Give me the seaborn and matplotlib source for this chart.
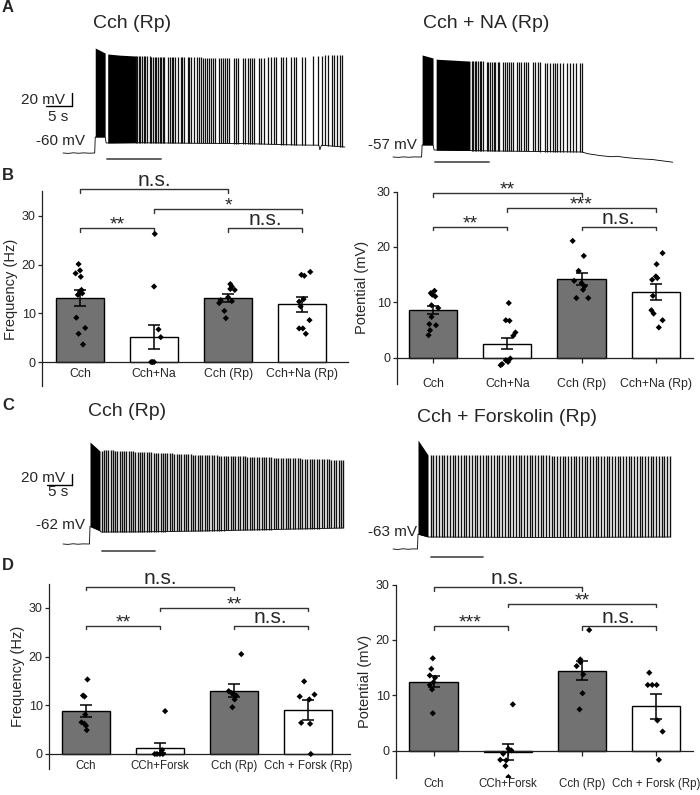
import numpy as np
import pandas as pd
import matplotlib
matplotlib.use('Agg')
import matplotlib.pyplot as plt
import seaborn as sns

# ---- bar chart data (mean, sem, single cells) ----
b_cats = ['Cch', 'Cch+Na', 'Cch (Rp)', 'Cch+Na (Rp)']
d_cats = ['Cch', 'CCh+Forsk', 'Cch (Rp)', 'Cch + Forsk (Rp)']

b_freq_mean = [13.1, 5.1, 13.1, 11.9]
b_freq_sem = [1.6, 2.4, 0.8, 1.55]
b_freq_pts = [[20.1, 18.8, 18.2, 17.5, 14.8, 14.5, 14.1, 13.8, 9.1, 7.0, 5.8, 3.6],
              [26.3, 15.5, 6.7, 5.1, 0.0, 0.0, 0.0],
              [16.0, 15.5, 15.0, 14.8, 13.3, 12.7, 12.5, 12.1, 10.5, 9.0],
              [18.5, 17.9, 17.7, 12.9, 12.4, 11.4, 8.6, 6.9, 6.9, 5.8]]
b_freq_dx = [[-0.02, 0.0, -0.06, 0.01, 0.02, 0.0, 0.03, -0.03, -0.05, 0.07, -0.02, 0.04],
             [0.01, 0.0, 0.06, 0.09, -0.04, 0.0, -0.02],
             [0.03, 0.05, 0.03, 0.09, 0.0, -0.1, 0.05, -0.12, -0.05, -0.03],
             [0.11, -0.01, 0.03, 0.02, -0.04, -0.02, 0.1, -0.04, 0.01, 0.05]]
b_freq_sig = [(0, 2, 35.5, 'n.s.'), (0, 1, 27.5, '**'), (1, 3, 31.4, '*'), (2, 3, 27.5, 'n.s.')]

b_pot_mean = [8.65, 2.6, 14.2, 11.9]
b_pot_sem = [0.8, 1.0, 1.05, 1.4]
b_pot_pts = [[12.1, 11.7, 11.4, 11.1, 9.5, 9.0, 7.4, 6.1, 5.9, 5.0, 4.1],
             [9.9, 6.8, 6.7, 4.6, 4.0, -0.1, -0.4, -0.7, -1.1, -1.3],
             [21.1, 18.4, 15.7, 13.9, 13.5, 12.9, 12.3, 10.8, 10.8],
             [18.9, 16.9, 14.7, 14.4, 14.1, 11.2, 8.6, 8.0, 6.8, 5.5]]
b_pot_dx = [[0.02, -0.03, -0.01, 0.03, -0.02, 0.07, -0.02, -0.05, 0.04, -0.04, -0.06],
            [0.02, -0.02, 0.03, 0.11, 0.08, 0.04, -0.02, 0.01, -0.07, -0.09],
            [-0.12, 0.03, -0.04, -0.1, 0.0, 0.04, 0.02, -0.07, 0.09],
            [0.09, 0.01, 0.0, 0.02, -0.05, -0.04, -0.06, -0.03, 0.09, 0.04]]
b_pot_sig = [(0, 2, 29.7, '**'), (0, 1, 23.6, '**'), (1, 3, 27.0, '***'), (2, 3, 23.6, 'n.s.')]

d_freq_mean = [8.8, 1.2, 13.0, 9.0]
d_freq_sem = [1.3, 1.1, 1.4, 2.0]
d_freq_pts = [[15.3, 12.0, 11.8, 8.1, 6.5, 6.2, 5.8, 4.9],
              [8.8, 0.8, 0.0, 0.0, 0.0, 0.0],
              [20.5, 12.9, 12.5, 12.2, 12.0, 11.2, 9.6],
              [14.9, 12.2, 11.8, 11.2, 6.4, 6.2, 0.0]]
d_freq_dx = [[0.02, -0.04, -0.02, -0.01, -0.06, -0.02, 0.0, 0.01],
             [0.07, 0.03, 0.0, -0.04, 0.04, -0.07],
             [0.1, -0.07, -0.03, 0.0, 0.03, 0.01, -0.02],
             [-0.05, 0.09, -0.11, 0.02, -0.09, 0.03, 0.04]]
d_freq_sig = [(0, 2, 34.3, 'n.s.'), (0, 1, 26.3, '**'), (1, 3, 30.0, '**'), (2, 3, 26.3, 'n.s.')]

d_pot_mean = [12.5, -0.2, 14.5, 8.1]
d_pot_sem = [1.05, 1.4, 1.75, 2.25]
d_pot_pts = [[16.7, 14.8, 13.6, 13.2, 12.4, 11.9, 11.1, 6.8],
             [8.4, 0.4, 0.1, -0.5, -1.6, -1.7, -2.7, -4.7],
             [21.8, 16.5, 16.0, 15.3, 13.8, 10.4, 7.5],
             [14.1, 11.9, 11.9, 11.9, 5.5, 3.5, -1.6]]
d_pot_dx = [[-0.01, -0.03, -0.05, 0.02, 0.0, -0.05, -0.02, -0.01],
            [0.07, 0.01, 0.05, -0.06, -0.1, -0.02, -0.03, 0.01],
            [0.1, -0.02, -0.02, -0.07, 0.02, 0.01, -0.03],
            [-0.09, -0.11, -0.05, 0.01, 0.02, 0.09, 0.04]]
d_pot_sig = [(0, 2, 29.5, 'n.s.'), (0, 1, 22.5, '***'), (1, 3, 26.5, '**'), (2, 3, 22.5, 'n.s.')]

# ---- traces: time (s), membrane potential (mV) ----
a_left_base_t = [0, 1, 2, 3, 4, 5, 6.1, 6.2, 8.1, 8.3, 15, 25, 35, 45, 49.2, 49.4, 49.7, 52, 54.2]
a_left_base_v = [-60, -60.6, -59.7, -60.4, -59.8, -60.3, -60, -35.4, -35.4, -44.6, -44.2, -45, -45.5,
                 -47.7, -48, -55, -48, -49.5, -50.8]
a_left_top_t = [6.2, 8.5, 14, 20, 32.7, 45.6, 52, 54.2]
a_left_top_v = [101.5, 92.3, 89.2, 87.7, 86.2, 87.7, 90.8, 90.8]
a_left_block_t = [[6.2, 8.1], [8.6, 11.0, 14.0]]
a_left_block_top = [[101.5, 93.8], [92.3, 90.5, 89.2]]
a_left_block_bot = [[-35.4, -35.4], [-44.6, -44.4, -44.2]]
a_left_spikes = [14.0, 14.3, 14.6, 14.9, 15.2, 15.5, 15.8, 16.1, 16.7, 17.0, 17.3, 17.6, 17.9, 18.3,
                 18.6, 18.9, 19.2, 19.5, 20.2, 20.5, 20.9, 21.2, 21.5, 22.2, 22.6, 22.9, 23.3, 24.0,
                 24.3, 24.7, 25.1, 25.8, 26.2, 26.5, 26.9, 27.3, 27.7, 28.1, 28.4, 28.8, 29.2, 30.0,
                 30.4, 30.8, 31.2, 31.6, 32.0, 32.9, 33.3, 33.7, 34.6, 35.0, 35.5, 35.9, 36.3, 36.8,
                 37.7, 38.1, 38.6, 39.5, 40.0, 40.5, 40.9, 41.9, 42.4, 42.9, 43.9, 44.4, 44.9,
                 45.9, 46.5, 48.1, 49.0, 49.9, 50.4, 51.0, 51.7, 52.1, 52.6, 53.3, 53.7]
a_left_window = [8.5, 18.8]

a_right_base_t = [0, 1, 2, 3, 4, 5.5, 5.6, 7.7, 7.9, 20, 36.3, 37.5, 40, 42, 43, 45, 47, 50, 53.8]
a_right_base_v = [-57, -57.6, -56.8, -57.4, -56.9, -57, -38.5, -38.5, -46.2, -47.8, -49.3, -52,
                  -55, -56.6, -55.9, -58, -59.5, -61, -65]
a_right_top_t = [5.6, 7.7, 9, 14.8, 20.6, 36.3]
a_right_top_v = [100, 95.3, 93, 90.5, 89.2, 87.6]
a_right_block_t = [[5.6, 7.7], [8.3, 14.8]]
a_right_block_top = [[100, 95.3], [93.5, 90.5]]
a_right_block_bot = [[-38.5, -38.5], [-46.5, -47.0]]
a_right_spikes = [15.1, 15.4, 15.7, 16.0, 16.3, 16.7, 17.0, 17.3, 18.0, 18.3, 18.7, 19.0, 19.4,
                  19.7, 20.1, 20.4, 21.2, 21.5, 21.9, 22.3, 22.7, 23.1, 23.9, 24.3, 24.7, 25.1,
                  25.6, 26.0, 26.9, 27.3, 27.8, 28.3, 29.2, 29.7, 30.2, 30.7, 31.2,
                  31.5, 32.1, 32.7, 33.5, 34.0, 34.6, 35.2, 36.0, 36.3]
a_right_window = [8.1, 18.5]

c_left_base_t = [0, 1, 2, 3, 4, 5.3, 5.4, 7.4, 7.6, 15, 27.4, 40, 56]
c_left_base_v = [-62, -62.7, -61.6, -62.4, -61.8, -62, -30, -38, -40.2, -40, -38.4, -36, -32.9]
c_left_top_t = [5.4, 6.5, 7.4, 8, 27.4, 56]
c_left_top_v = [123.5, 112, 107, 109, 100, 90.7]
c_left_block_t = [[5.4, 7.4]]
c_left_block_top = [[123.5, 107]]
c_left_block_bot = [[-30, -38]]
c_left_spikes = [7.7, 8.1, 8.6, 9.0, 9.5, 9.9, 10.4, 10.8, 11.3, 11.7, 12.2, 12.6, 13.1, 13.5, 14.0,
                 14.4, 14.9, 15.3, 15.8, 16.2, 16.7, 17.2, 17.6, 18.1, 18.5, 19.0, 19.5, 19.9, 20.4,
                 20.8, 21.3, 21.8, 22.2, 22.7, 23.2, 23.6, 24.1, 24.6, 25.0, 25.5, 26.0, 26.4, 26.9,
                 27.4, 27.8, 28.3, 28.8, 29.2, 29.7, 30.2, 30.7, 31.1, 31.6, 32.1, 32.5, 33.0, 33.5,
                 34.0, 34.4, 34.9, 35.4, 35.9, 36.3, 36.8, 37.3, 37.8, 38.2, 38.7, 39.2, 39.7, 40.1,
                 40.6, 41.1, 41.6, 42.1, 42.5, 43.0, 43.5, 44.0, 44.5, 44.9, 45.4, 45.9, 46.4, 46.9,
                 47.3, 47.8, 48.3, 48.8, 49.3, 49.8, 50.2, 50.7, 51.2, 51.7, 52.2, 52.7, 53.1, 53.6,
                 54.1, 54.6, 55.1, 55.6, 56.0]
c_left_window = [7.8, 18.4]

c_right_base_t = [0, 1, 2, 3, 4, 4.9, 5.0, 7.0, 7.2, 30, 55.4]
c_right_base_v = [-63, -63.8, -62.6, -63.5, -62.8, -63, -36, -41, -41.2, -42, -41.2]
c_right_top_t = [5.0, 6.0, 7.0, 55.4]
c_right_top_v = [135, 120, 108, 106]
c_right_block_t = [[5.0, 7.0]]
c_right_block_top = [[135, 108]]
c_right_block_bot = [[-36, -41]]
c_right_spikes = [7.5, 8.0, 8.6, 9.1, 9.7, 10.2, 10.8, 11.3, 11.9, 12.4, 13.0, 13.5, 14.1, 14.6,
                  15.2, 15.7, 16.3, 16.8, 17.4, 17.9, 18.5, 19.0, 19.6, 20.1, 20.7, 21.2, 21.8,
                  22.3, 22.9, 23.4, 24.0, 24.5, 25.1, 25.6, 26.2, 26.7, 27.3, 27.8, 28.4, 28.9,
                  29.5, 30.0, 30.6, 31.1, 31.7, 32.2, 32.8, 33.3, 33.9, 34.4, 35.0, 35.5, 36.1,
                  36.6, 37.2, 37.7, 38.3, 38.8, 39.4, 39.9, 40.5, 41.0, 41.6, 42.1, 42.7, 43.2,
                  43.8, 44.3, 44.9, 45.4, 46.0, 46.5, 47.1, 47.6, 48.2, 48.7, 49.3, 49.8, 50.4,
                  50.9, 51.5, 52.0, 52.6, 53.1, 53.7, 54.2, 54.8, 55.3]
c_right_window = [7.6, 18.0]

bar_colors = ['#727272', 'white', '#727272', 'white']

W, H = 700, 795
sns.set_style('ticks')
plt.rcParams['font.family'] = ['Liberation Sans', 'DejaVu Sans']

fig = plt.figure(figsize=(W / 100, H / 100), dpi=100)


def px_axes(x, y, w, h):
    return fig.add_axes([x / W, 1 - (y + h) / H, w / W, h / H])


def trace_axes(box, origin, t_px, mv_px, v0):
    x, y, w, h = box
    ox, oy = origin
    ax = px_axes(x, y, w, h)
    ax.set_xlim((x - ox) / t_px, (x + w - ox) / t_px)
    ax.set_ylim(v0 - (y + h - oy) / mv_px, v0 - (y - oy) / mv_px)
    ax.axis('off')
    return ax


def draw_trace(ax, base_t, base_v, top_t, top_v, blk_t, blk_top, blk_bot, spikes, window,
               win_v, lw):
    ax.plot(base_t, base_v, color='black', lw=0.6)
    for bt, btop, bbot in zip(blk_t, blk_top, blk_bot):
        ax.fill_between(bt, bbot, btop, color='black', lw=0)
    sp = np.asarray(spikes)
    ax.vlines(sp, np.interp(sp, base_t, base_v), np.interp(sp, top_t, top_v),
              color='#111111', lw=lw)
    ax.plot(window, [win_v, win_v], color='#555555', lw=1.3)


def bar_panel(box, cats, means, sems, pts, dxs, sig, ylim, xlim, ylabel, label_x,
              tick_len, tick_pad, xfont):
    ax = px_axes(*box)
    sns.barplot(x=cats, y=means, hue=cats, palette=dict(zip(cats, bar_colors)),
                width=0.65, edgecolor='black', linewidth=1.0, errorbar=None,
                legend=False, ax=ax, zorder=2)
    ax.errorbar(np.arange(4), means, yerr=sems, fmt='none', ecolor='black',
                elinewidth=1.1, capsize=4, capthick=1.1, zorder=4)
    xs, ys = [], []
    for i, (vals, dx) in enumerate(zip(pts, dxs)):
        xs += [i + d for d in dx]
        ys += vals
    df = pd.DataFrame({'x': xs, 'y': ys})
    sns.scatterplot(data=df, x='x', y='y', marker='D', s=10, color='black',
                    edgecolor='none', ax=ax, zorder=5)
    rng = ylim[1] - ylim[0]
    for i, j, y, lab in sig:
        d = rng * 0.018
        ax.plot([i, i, j, j], [y - d, y, y, y - d], color='#333333', lw=1.0, clip_on=False)
        if lab == 'n.s.':
            ax.annotate(lab, xy=((i + j) / 2, y), xytext=(0, 2), textcoords='offset points',
                        ha='center', va='baseline', fontsize=15, annotation_clip=False)
        else:
            ax.annotate(lab, xy=((i + j) / 2, y), xytext=(0, -1), textcoords='offset points',
                        ha='center', va='baseline', fontsize=14, annotation_clip=False)
    ax.set_xlim(*xlim)
    ax.set_ylim(*ylim)
    sns.despine(ax=ax)
    ax.spines['bottom'].set_position(('data', 0))
    for s in ['left', 'bottom']:
        ax.spines[s].set_linewidth(0.9)
        ax.spines[s].set_color('#222222')
    ax.set_yticks([0, 10, 20, 30])
    ax.set_xticks(range(4))
    ax.set_xticklabels(cats)
    ax.tick_params(axis='y', length=3, width=0.9, labelsize=9, pad=1.5)
    ax.tick_params(axis='x', length=tick_len, width=0.9, pad=tick_pad, labelsize=xfont)
    ax.set_xlabel('')
    ax.set_ylabel(ylabel, fontsize=10.5)
    ax.yaxis.set_label_coords(label_x, 0.5)
    return ax


# ---- A: traces ----
ax = trace_axes((0, 28, 350, 142), (63, 153), 5.2, 0.65, -60)
draw_trace(ax, a_left_base_t, a_left_base_v, a_left_top_t, a_left_top_v,
           a_left_block_t, a_left_block_top, a_left_block_bot, a_left_spikes, a_left_window,
           -69.2, 0.9)
ax.plot([1.7, 1.7], [12, 32], color='black', lw=1)
ax.plot([-3.3, 1.7], [12, 12], color='black', lw=1)
ax.text(0.4, 21.5, '20 mV', ha='right', va='center', fontsize=11)
ax.text(-1.0, -4.6, '5 s', ha='center', va='center', fontsize=11)
ax.text(4.2, -41.5, '-60 mV', ha='right', va='center', fontsize=11)

ax = trace_axes((350, 28, 350, 142), (393, 157), 5.2, 0.65, -57)
draw_trace(ax, a_right_base_t, a_right_base_v, a_right_top_t, a_right_top_v,
           a_right_block_t, a_right_block_top, a_right_block_bot, a_right_spikes, a_right_window,
           -64.7, 0.9)
ax.text(4.6, -38.5, '-57 mV', ha='right', va='center', fontsize=11)

# ---- C: traces ----
ax = trace_axes((0, 425, 350, 140), (63, 544), 5.0, 0.55, -62)
draw_trace(ax, c_left_base_t, c_left_base_v, c_left_top_t, c_left_top_v,
           c_left_block_t, c_left_block_top, c_left_block_bot, c_left_spikes, c_left_window,
           -74.7, 1.0)
ax.plot([1.8, 1.8], [46, 66], color='black', lw=1)
ax.plot([-3.2, 1.8], [46, 46], color='black', lw=1)
ax.text(0.4, 58, '20 mV', ha='right', va='center', fontsize=11)
ax.text(-1.0, 32.5, '5 s', ha='center', va='center', fontsize=11)
ax.text(4.4, -27.5, '-62 mV', ha='right', va='center', fontsize=11)

ax = trace_axes((350, 425, 350, 140), (393, 549), 5.0, 0.55, -63)
draw_trace(ax, c_right_base_t, c_right_base_v, c_right_top_t, c_right_top_v,
           c_right_block_t, c_right_block_top, c_right_block_bot, c_right_spikes, c_right_window,
           -77.5, 1.0)
ax.text(4.8, -32, '-63 mV', ha='right', va='center', fontsize=11)

# ---- B / D: bar charts ----
bar_panel((42, 191.5, 306, 194.9), b_cats, b_freq_mean, b_freq_sem, b_freq_pts, b_freq_dx,
          b_freq_sig, (-5, 35), (-0.514, 3.62), 'Frequency (Hz)', -0.078, 0, 4, 8.8)
bar_panel((397, 191.5, 296, 192), b_cats, b_pot_mean, b_pot_sem, b_pot_pts, b_pot_dx,
          b_pot_sig, (-4.6, 30), (-0.485, 3.5), 'Potential (mV)', -0.095, 3.5, 11, 8.8)
bar_panel((49, 583.5, 301, 185.1), d_cats, d_freq_mean, d_freq_sem, d_freq_pts, d_freq_dx,
          d_freq_sig, (-3, 35), (-0.5, 3.57), 'Frequency (Hz)', -0.08, 0, 4, 8.3)
bar_panel((396, 584.5, 297, 193.1), d_cats, d_pot_mean, d_pot_sem, d_pot_pts, d_pot_dx,
          d_pot_sig, (-4.8, 30), (-0.506, 3.5), 'Potential (mV)', -0.08, 3.5, 16, 8.3)

# ---- titles and panel letters ----
for x, y, s in [(132, 24, 'Cch (Rp)'), (486, 23, 'Cch + NA (Rp)'),
                (127, 411, 'Cch (Rp)'), (507, 418, 'Cch + Forskolin (Rp)')]:
    fig.text(x / W, 1 - y / H, s, ha='center', va='center', fontsize=14)
for x, y, s in [(8, 8, 'A'), (8, 176, 'B'), (8, 406, 'C'), (8, 566, 'D')]:
    fig.text(x / W, 1 - y / H, s, ha='center', va='center', fontsize=12, fontweight='bold')

fig.savefig('out.png', dpi=100)
